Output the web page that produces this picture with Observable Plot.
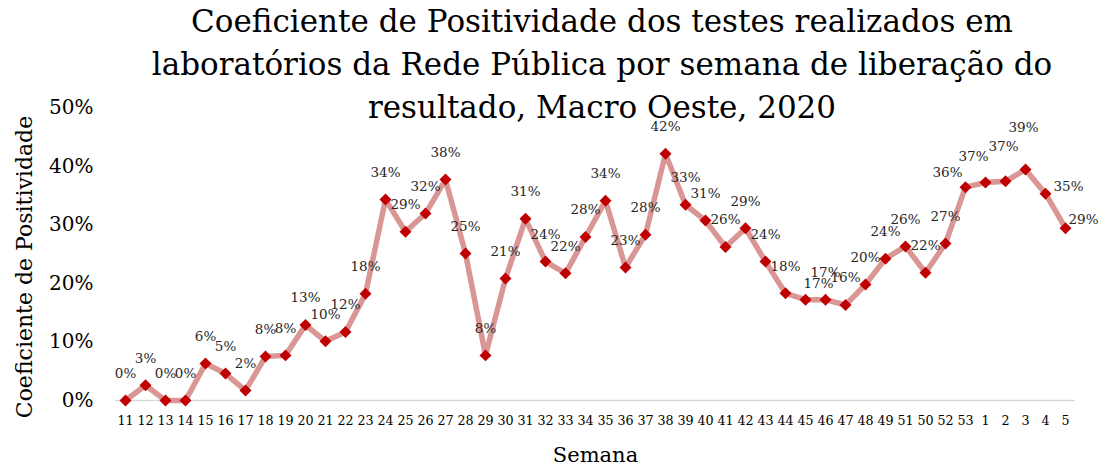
<!DOCTYPE html>
<html>
<head>
<meta charset="utf-8">
<script src="https://cdn.jsdelivr.net/npm/d3@7"></script>
<script src="https://cdn.jsdelivr.net/npm/@observablehq/plot@0.6"></script>
<style>
  html, body { margin: 0; padding: 0; background: #fff; }
  #wrap { position: relative; width: 1108px; height: 467px; overflow: hidden; }
  #title {
    position: absolute; left: 602px; top: 0; transform: translateX(-50%);
    font-family: "DejaVu Serif", serif; font-size: 31px; line-height: 43px;
    text-align: center; white-space: nowrap; color: #000; z-index: 2;
  }
  #chart { position: absolute; left: 0; top: 0; }
  #chart svg { overflow: visible; }
</style>
</head>
<body>
<div id="wrap">
  <div id="title">Coeficiente de Positividade dos testes realizados em<br>laboratórios da Rede Pública por semana de liberação do<br>resultado, Macro Oeste, 2020</div>
  <div id="chart"></div>
</div>
<script>
// Week labels in the order shown on the x axis
const weeks = ["11","12","13","14","15","16","17","18","19","20","21","22","23","24","25","26","27","28","29","30",
  "31","32","33","34","35","36","37","38","39","40","41","42","43","44","45","46","47","48","49","51","50","52","53",
  "1","2","3","4","5"];
// Positivity coefficient (fraction)
const positivity = [0, 0.026, 0, 0, 0.063, 0.046, 0.017, 0.075, 0.077, 0.129, 0.101, 0.117, 0.182, 0.343, 0.288,
  0.319, 0.377, 0.251, 0.077, 0.208, 0.31, 0.237, 0.217, 0.279, 0.341, 0.227, 0.283, 0.421, 0.334, 0.307, 0.262,
  0.294, 0.237, 0.183, 0.172, 0.172, 0.163, 0.198, 0.242, 0.263, 0.218, 0.268, 0.364, 0.372, 0.374, 0.394, 0.353, 0.294];
const yTicks = [0, 0.1, 0.2, 0.3, 0.4, 0.5];

// Label placement offsets (dx, dy) that differ from the default above-centered position
const labelOffsets = {"45": [13, -16], "53": [-18, -15], "1": [-12, -26], "2": [-2, -35], "3": [-2, -42], "4": [23, -7], "5": [18, -9]};

const data = weeks.map((w, i) => ({week: w, value: positivity[i]}));
const pct = d3.format(".0%");
const font = "DejaVu Serif";

const defaultLabels = data.filter(d => !(d.week in labelOffsets));
const overrideMarks = Object.entries(labelOffsets).map(([w, [dx, dy]]) =>
  Plot.text(data.filter(d => d.week === w), {x: "week", y: "value", text: d => pct(d.value), dx, dy,
    fontSize: 13.5, fill: "#262626", lineAnchor: "middle"}));

const chart = Plot.plot({
  width: 1108,
  height: 467,
  marginLeft: 115,
  marginRight: 33,
  marginTop: 107,
  marginBottom: 67,
  style: {fontFamily: font, background: "transparent", color: "#000"},
  x: {type: "point", domain: weeks, padding: 0.5},
  y: {domain: [0, 0.5]},
  marks: [
    Plot.ruleY([0], {stroke: "#d9d9d9", strokeWidth: 1.5}),
    Plot.axisY({ticks: yTicks, tickFormat: pct, tickSize: 0, tickPadding: 22, fontSize: 20, label: null, fill: "#000"}),
    Plot.axisX({tickSize: 0, tickPadding: 15, fontSize: 12.7, label: null, fill: "#000"}),
    Plot.text(["Semana"], {frameAnchor: "bottom", dy: 55, fontSize: 21, fill: "#000", lineAnchor: "middle"}),
    Plot.text(["Coeficiente de Positividade"], {frameAnchor: "left", rotate: -90, dx: -91, dy: 13, fontSize: 22,
      fill: "#000", lineAnchor: "middle", textAnchor: "middle"}),
    Plot.line(data, {x: "week", y: "value", stroke: "#d99694", strokeWidth: 5.5, strokeLinejoin: "miter"}),
    Plot.dot(data, {x: "week", y: "value", symbol: "diamond2", r: 5.4, fill: "#c00000", stroke: "none"}),
    Plot.text(defaultLabels, {x: "week", y: "value", text: d => pct(d.value), dy: -27, fontSize: 13.5, fill: "#262626", lineAnchor: "middle"}),
    ...overrideMarks
  ]
});
document.getElementById("chart").appendChild(chart);
</script>
</body>
</html>
